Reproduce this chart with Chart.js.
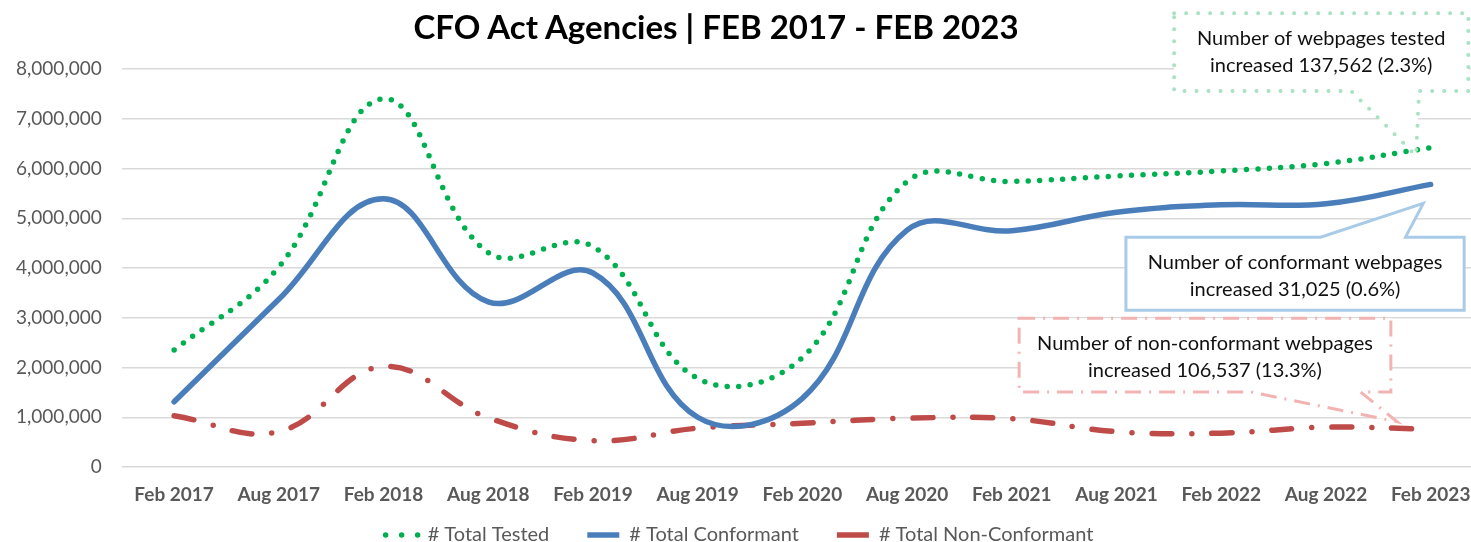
<!DOCTYPE html>
<html>
<head>
<meta charset="utf-8">
<script src="https://cdn.jsdelivr.net/npm/chart.js@4.4.1/dist/chart.umd.min.js"></script>
<style>
  html, body { margin: 0; padding: 0; background: #fff; overflow: hidden; }
  #wrap { position: absolute; left: -4px; top: 0; width: 1487px; height: 542px; }
  #title {
    position: absolute; left: 0; top: 10px; width: 1432px; text-align: center;
    font: bold 33px/33px Lato, sans-serif; color: #000; white-space: nowrap;
  }
</style>
</head>
<body>
<div id="wrap">
  <canvas id="chart"></canvas>
</div>
<div id="title">CFO Act Agencies | FEB 2017 - FEB 2023</div>
<script>
const labels = ['Feb 2017', 'Aug 2017', 'Feb 2018', 'Aug 2018', 'Feb 2019', 'Aug 2019', 'Feb 2020',
  'Aug 2020', 'Feb 2021', 'Aug 2021', 'Feb 2022', 'Aug 2022', 'Feb 2023'];
const totalTested = [2350000, 4020000, 7400000, 4310000, 4430000, 1780000, 2200000,
  5740000, 5740000, 5850000, 5950000, 6100000, 6420000];
const totalConformant = [1310000, 3370000, 5390000, 3320000, 3900000, 1000000, 1380000,
  4760000, 4750000, 5120000, 5270000, 5290000, 5680000];
const totalNonConformant = [1030000, 710000, 2020000, 990000, 530000, 780000, 880000,
  980000, 970000, 710000, 680000, 800000, 760000];
const yTicks = [0, 1000000, 2000000, 3000000, 4000000, 5000000, 6000000, 7000000, 8000000];

const testedNote = ['Number of webpages tested', 'increased 137,562 (2.3%)'];
const conformantNote = ['Number of conformant webpages', 'increased 31,025 (0.6%)'];
const nonConformantNote = ['Number of non-conformant webpages', 'increased 106,537 (13.3%)'];

// callout boxes, placed in data units (category index / value)
const callouts = [
  { text: testedNote, x0: 9.55, x1: 12.36, y0: 9.12e6, y1: 7.56e6, side: 'bottom',
    base: [11.24, 11.89], tip: [11.86, 6.26e6], dy: 0,
    color: '#a9e2c2', width: 4, dash: [0, 12], cap: 'round' },
  { text: conformantNote, x0: 9.09, x1: 12.32, y0: 4.62e6, y1: 3.15e6, side: 'top',
    base: [10.95, 11.76], tip: [11.93, 5.30e6], dy: 2,
    color: '#a9cbe8', width: 3, dash: [], cap: 'butt' },
  { text: nonConformantNote, x0: 8.07, x1: 11.62, y0: 2.99e6, y1: 1.51e6, side: 'bottom',
    base: [10.28, 11.33], tip: [11.68, 0.91e6], dy: 2,
    color: '#f2b3b3', width: 3, dash: [16, 8, 2, 8], cap: 'butt' }
];

const calloutPlugin = {
  id: 'callouts',
  afterDatasetsDraw(chart) {
    const ctx = chart.ctx;
    const xs = chart.scales.x, ys = chart.scales.y;
    callouts.forEach(c => {
      const l = xs.getPixelForValue(c.x0), r = xs.getPixelForValue(c.x1);
      const t = ys.getPixelForValue(c.y0), b = ys.getPixelForValue(c.y1);
      const b0 = xs.getPixelForValue(c.base[0]), b1 = xs.getPixelForValue(c.base[1]);
      const tx = xs.getPixelForValue(c.tip[0]), ty = ys.getPixelForValue(c.tip[1]);
      ctx.save();
      ctx.beginPath();
      ctx.moveTo(l, t);
      if (c.side === 'top') {
        ctx.lineTo(b0, t); ctx.lineTo(tx, ty); ctx.lineTo(b1, t);
      }
      ctx.lineTo(r, t);
      ctx.lineTo(r, b);
      if (c.side === 'bottom') {
        ctx.lineTo(b1, b); ctx.lineTo(tx, ty); ctx.lineTo(b0, b);
      }
      ctx.lineTo(l, b);
      ctx.closePath();
      ctx.fillStyle = '#fff';
      ctx.fill();
      ctx.strokeStyle = c.color;
      ctx.lineWidth = c.width;
      ctx.lineCap = c.cap;
      ctx.setLineDash(c.dash);
      ctx.stroke();
      ctx.setLineDash([]);
      ctx.fillStyle = '#111';
      ctx.font = '20px Lato, sans-serif';
      ctx.textAlign = 'center';
      ctx.textBaseline = 'middle';
      const cx = (l + r) / 2, cy = (t + b) / 2 + c.dy;
      ctx.fillText(c.text[0], cx, cy - 13.5);
      ctx.fillText(c.text[1], cx, cy + 13.5);
      ctx.restore();
    });
  }
};

new Chart(document.getElementById('chart'), {
  type: 'line',
  data: {
    labels: labels,
    datasets: [
      {
        label: '# Total Tested',
        data: totalTested,
        borderColor: '#00b050',
        backgroundColor: '#00b050',
        borderWidth: 5.5,
        borderDash: [0, 11.5],
        borderCapStyle: 'round',
        pointRadius: 0,
        tension: 0.4
      },
      {
        label: '# Total Conformant',
        data: totalConformant,
        borderColor: '#4a7ebb',
        backgroundColor: '#4a7ebb',
        borderWidth: 5.5,
        borderCapStyle: 'round',
        pointRadius: 0,
        tension: 0.4
      },
      {
        label: '# Total Non-Conformant',
        data: totalNonConformant,
        borderColor: '#be4b48',
        backgroundColor: '#be4b48',
        borderWidth: 5.5,
        borderDash: [20, 20, 0, 20],
        borderCapStyle: 'round',
        pointRadius: 0,
        tension: 0.4
      }
    ]
  },
  options: {
    responsive: true,
    maintainAspectRatio: false,
    animation: false,
    layout: { padding: { top: 69, left: 0, right: 0, bottom: -13 } },
    plugins: {
      title: { display: false },
      tooltip: { enabled: false },
      legend: {
        position: 'bottom',
        labels: {
          boxWidth: 32,
          boxHeight: 0,
          padding: 8,
          color: '#595959',
          font: { family: 'Lato', size: 20 },
          generateLabels: chart => {
            const items = Chart.defaults.plugins.legend.labels.generateLabels(chart);
            items.forEach((it, i) => {
              it.lineDash = i === 0 ? [0, 16] : [];
              if (i < items.length - 1) it.text += '\u2002\u2002\u2002';
            });
            return items;
          }
        }
      }
    },
    scales: {
      x: {
        offset: true,
        grid: { display: false },
        border: { display: false },
        afterFit: axis => { axis.height = 50; },
        ticks: {
          color: '#595959',
          maxRotation: 0,
          autoSkip: false,
          padding: 8,
          font: { family: 'Lato', size: 19, weight: 'bold' }
        }
      },
      y: {
        min: 0,
        max: 8000000,
        afterBuildTicks: axis => { axis.ticks = yTicks.map(v => ({ value: v })); },
        grid: { color: '#d9d9d9', lineWidth: 1.5, drawTicks: false },
        border: { display: false },
        ticks: {
          color: '#595959',
          padding: 20,
          font: { family: 'Lato', size: 19 },
          callback: v => v.toLocaleString('en-US')
        }
      }
    }
  },
  plugins: [calloutPlugin]
});
</script>
</body>
</html>
